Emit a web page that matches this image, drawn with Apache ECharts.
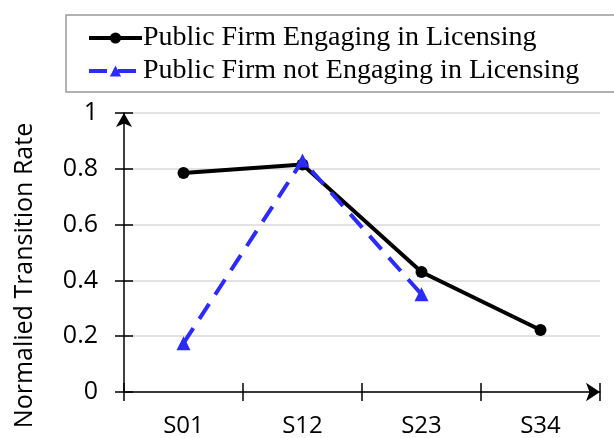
<!DOCTYPE html>
<html>
<head>
<meta charset="utf-8">
<script src="https://cdn.jsdelivr.net/npm/echarts@6/dist/echarts.min.js"></script>
<style>
  html, body { margin: 0; padding: 0; background: #fff; }
  #chart { width: 614px; height: 438px; }
</style>
</head>
<body>
<div id="chart"></div>
<script>
// stages on the x axis
const stages = ['S01', 'S12', 'S23', 'S34']
// normalised transition rates
const licensing = [0.785, 0.815, 0.43, 0.222]
const notLicensing = [0.175, 0.83, 0.35, null]
const seriesNames = ['Public Firm Engaging in Licensing', 'Public Firm not Engaging in Licensing']

const sans = '"Open Sans", "DejaVu Sans", sans-serif'
const serif = '"Liberation Serif", "DejaVu Serif", serif'

const chart = echarts.init(document.getElementById('chart'))

const option = {
  animation: false,
  grid: { left: 124, right: 14, top: 113, bottom: 46 },
  legend: {
    orient: 'vertical',
    left: 66,
    top: 15,
    padding: [9, 60, 7, 21],
    itemGap: 5,
    itemWidth: 53,
    itemHeight: 14,
    borderColor: '#999',
    borderWidth: 1.5,
    lineStyle: { width: 4 },
    textStyle: { fontFamily: serif, fontSize: 28, color: '#000', padding: [0, 0, 0, -4] },
    data: seriesNames
  },
  xAxis: [
    {
      type: 'category',
      data: stages,
      boundaryGap: true,
      axisLine: {
        lineStyle: { color: '#000', width: 1.5 },
        symbol: ['none', 'arrow'],
        symbolSize: [14, 14]
      },
      axisTick: { show: true, length: 9, lineStyle: { color: '#000', width: 1.5 } },
      axisLabel: { fontFamily: sans, fontSize: 24, color: '#000', margin: 22 },
      splitLine: { show: false }
    },
    {
      type: 'category',
      data: stages,
      position: 'bottom',
      boundaryGap: true,
      axisLine: { show: false },
      axisTick: { show: true, inside: true, length: 9, lineStyle: { color: '#000', width: 1.5 } },
      axisLabel: { show: false },
      splitLine: { show: false }
    }
  ],
  yAxis: [
    {
      type: 'value',
      min: 0,
      max: 1,
      interval: 0.2,
      name: 'Normalied Transition Rate',
      nameLocation: 'middle',
      nameGap: 87,
      nameTextStyle: { fontFamily: sans, fontSize: 25, color: '#000', padding: [0, 46, 0, 0] },
      axisLine: {
        show: true,
        lineStyle: { color: '#000', width: 1.5 },
        symbol: ['none', 'arrow'],
        symbolSize: [12, 14]
      },
      axisTick: { show: true, length: 9, lineStyle: { color: '#000', width: 1.5 } },
      axisLabel: { fontFamily: sans, fontSize: 25, color: '#000', margin: 26 },
      splitLine: { show: true, lineStyle: { color: '#d9d9d9', width: 1.5 } }
    },
    {
      type: 'value',
      min: 0,
      max: 1,
      interval: 0.2,
      position: 'left',
      axisLine: { show: false },
      axisTick: { show: true, inside: true, length: 9, lineStyle: { color: '#000', width: 1.5 } },
      axisLabel: { show: false },
      splitLine: { show: false }
    }
  ],
  series: [
    {
      name: seriesNames[0],
      type: 'line',
      data: licensing,
      symbol: 'circle',
      symbolSize: 12,
      itemStyle: { color: '#000' },
      lineStyle: { color: '#000', width: 4 },
      z: 3
    },
    {
      name: seriesNames[1],
      type: 'line',
      data: notLicensing,
      symbol: 'triangle',
      symbolSize: 14,
      itemStyle: { color: '#2b2bff' },
      lineStyle: { color: '#2b2bff', width: 4, type: [18, 11] },
      z: 4
    }
  ]
}

chart.setOption(option)
</script>
</body>
</html>
